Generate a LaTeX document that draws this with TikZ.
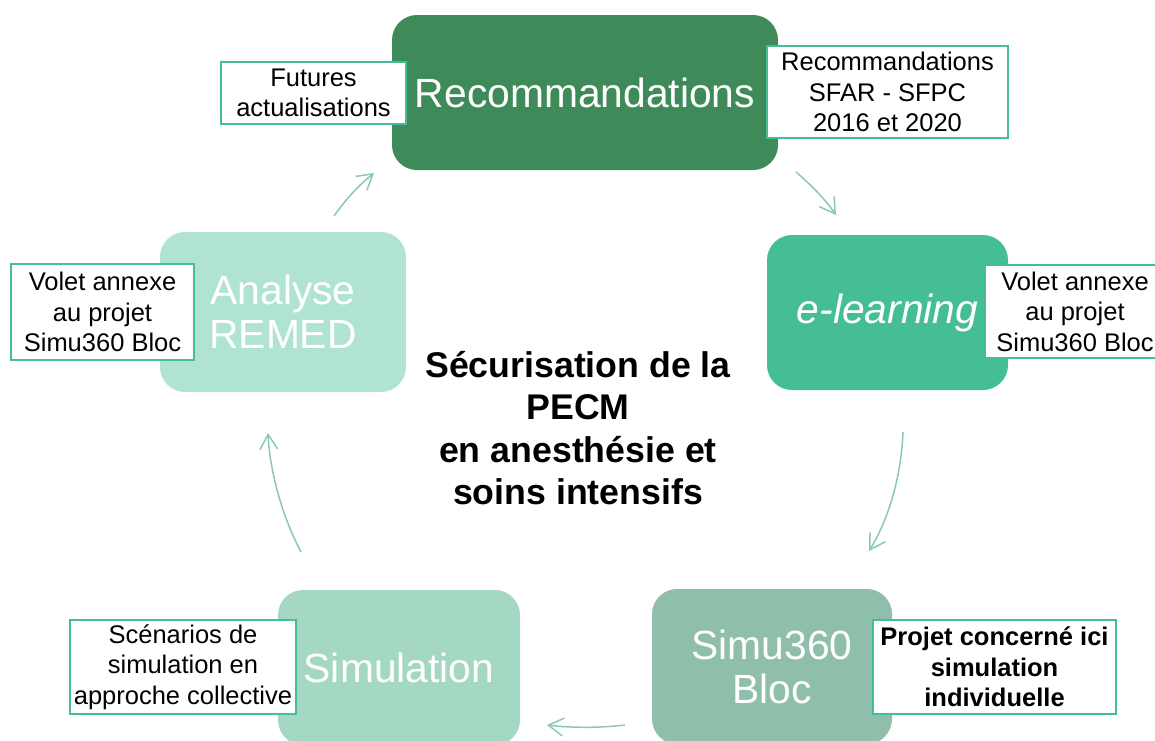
\documentclass[tikz,border=0pt]{standalone}
\usepackage{fontspec}
\setmainfont{Liberation Sans}
\usetikzlibrary{arrows.meta}
\definecolor{cRec}{RGB}{62,138,88}
\definecolor{cElearn}{RGB}{69,189,151}
\definecolor{cBloc}{RGB}{143,191,170}
\definecolor{cSimul}{RGB}{165,216,194}
\definecolor{cAnal}{RGB}{177,228,208}
\definecolor{cBorder}{RGB}{69,189,151}
\definecolor{cArrow}{RGB}{140,200,175}
\begin{document}
\begin{tikzpicture}[x=1pt,y=-1pt,
  big/.style={rounded corners=25pt, inner sep=0pt, align=center, text=white,
    font=\fontsize{40.8}{44}\selectfont},
  small/.style={draw=cBorder, line width=2pt, fill=white, inner sep=0pt, align=center,
    font=\fontsize{25.5}{30.5}\selectfont},
  cyc/.style={draw=cArrow, line width=1.5pt, -{Straight Barb[length=15pt,width=18pt]}}]
\useasboundingbox (0,0) rectangle (1155,740);
\clip (0,0) rectangle (1155,740);
% main boxes
\node[big, fill=cRec, minimum width=386pt, minimum height=155pt] (rec) at (585,92.5) {Recommandations};
\node[big, fill=cElearn, minimum width=241pt, minimum height=155pt] (elearn) at (887.5,312.5) {\itshape e-learning};
\node[big, fill=cBloc, minimum width=240pt, minimum height=155pt] (bloc) at (772,666.5) {Simu360\\Bloc};
\node[big, fill=cSimul, minimum width=242pt, minimum height=155pt] (simul) at (399,667.5) {Simulation};
\node[big, fill=cAnal, minimum width=246pt, minimum height=160pt] (anal) at (283,312) {Analyse\\REMED};
% annotation boxes
\node[small, minimum width=185pt, minimum height=62pt] (fut) at (313.5,93) {Futures\\actualisations};
\node[small, minimum width=241pt, minimum height=92pt] (sfar) at (887.5,92) {Recommandations\\SFAR - SFPC\\2016 et 2020};
\node[small, minimum width=180pt, minimum height=93pt] (volR) at (1075,311.5) {Volet annexe\\au projet\\Simu360 Bloc};
\node[small, minimum width=183pt, minimum height=96pt] (volL) at (102.5,312) {Volet annexe\\au projet\\Simu360 Bloc};
\node[small, minimum width=226pt, minimum height=94pt] (scen) at (183,667) {Scénarios de\\simulation en\\approche collective};
\node[small, minimum width=243pt, minimum height=94pt, font=\fontsize{25.5}{30.5}\selectfont\bfseries] (proj) at (994.5,667) {Projet concerné ici\\simulation\\individuelle};
% centre
\node[align=center, inner sep=0pt, font=\fontsize{35.7}{42.3}\selectfont\bfseries] (centre) at (578,428) {Sécurisation de la\\PECM\\en anesthésie et\\soins intensifs};
% cycle arrows
\coordinate (a1s) at (334,216); \coordinate (a1e) at (374,173);
\coordinate (a2s) at (796,172); \coordinate (a2e) at (836,215);
\coordinate (a3s) at (903,432); \coordinate (a3e) at (869,551);
\coordinate (a4s) at (625,725); \coordinate (a4e) at (547,725);
\coordinate (a5s) at (301,552); \coordinate (a5e) at (268,433);
\draw[cyc] (a1s) .. controls (346,199) and (358,186) .. (a1e);
\draw[cyc] (a2s) .. controls (811,185) and (825,199) .. (a2e);
\draw[cyc] (a3s) .. controls (901,480) and (887,522) .. (a3e);
\draw[cyc] (a4s) .. controls (600,728) and (572,728) .. (a4e);
\draw[cyc] (a5s) .. controls (284,520) and (270,475) .. (a5e);
\end{tikzpicture}
\end{document}
